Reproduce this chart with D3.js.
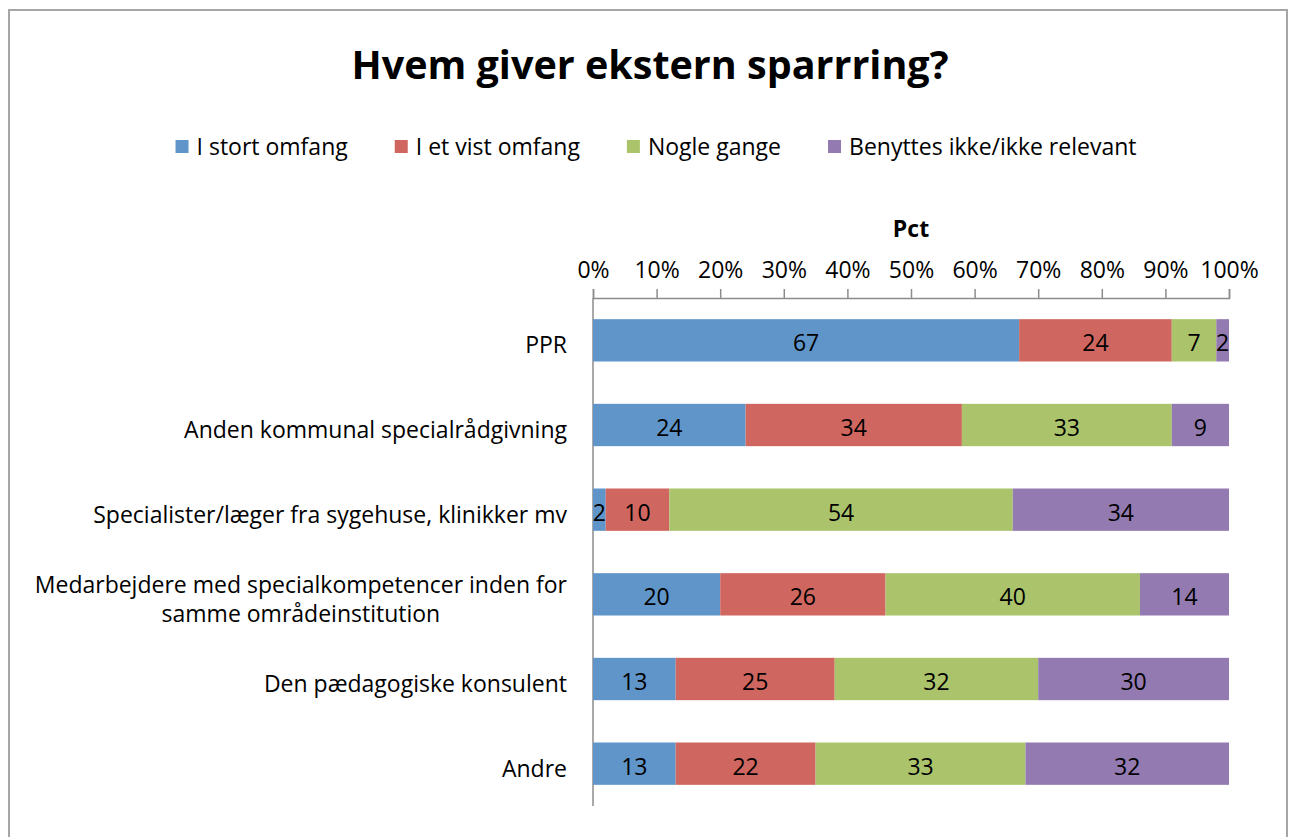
<!DOCTYPE html>
<html>
<head>
<meta charset="utf-8">
<script src="https://cdn.jsdelivr.net/npm/d3@7"></script>
<style>
  html, body { margin: 0; padding: 0; background: #fff; }
  svg text { font-family: "Open Sans", Lato, sans-serif; fill: #000; }
</style>
</head>
<body>
<svg id="chart" width="1296" height="837"></svg>
<script>
// Survey answers, percent of respondents per source of external sparring
const categories = [
  ["PPR"],
  ["Anden kommunal specialrådgivning"],
  ["Specialister/læger fra sygehuse, klinikker mv"],
  ["Medarbejdere med specialkompetencer inden for", "samme områdeinstitution"],
  ["Den pædagogiske konsulent"],
  ["Andre"]
];
const seriesNames = ["I stort omfang", "I et vist omfang", "Nogle gange", "Benyttes ikke/ikke relevant"];
const iStortOmfang   = [67, 24, 2, 20, 13, 13];
const iEtVistOmfang  = [24, 34, 10, 26, 25, 22];
const nogleGange     = [7, 33, 54, 40, 32, 33];
const benyttesIkke   = [2, 9, 34, 14, 30, 32];
const tickValues = [0, 10, 20, 30, 40, 50, 60, 70, 80, 90, 100];
const colors = ["#6095c9", "#cf665f", "#abc46c", "#937bb1"];

const FS = "23px";
const svg = d3.select("#chart");

// outer frame
svg.append("rect")
  .attr("x", 9).attr("y", 10).attr("width", 1278).attr("height", 840)
  .attr("fill", "none").attr("stroke", "#a6a6a6").attr("stroke-width", 2);

// title
svg.append("text")
  .attr("x", 650).attr("y", 79)
  .attr("text-anchor", "middle")
  .style("font-size", "39.5px").style("font-weight", "bold")
  .text("Hvem giver ekstern sparrring?");

// legend
const legend = svg.append("g");
let lx = 0;
const itemGap = 47;
seriesNames.forEach((name, i) => {
  const g = legend.append("g").attr("transform", `translate(${lx},0)`);
  g.append("rect").attr("x", 0).attr("y", -7).attr("width", 13).attr("height", 13).attr("fill", colors[i]);
  const t = g.append("text").attr("x", 21).attr("y", 8).style("font-size", FS).text(name);
  lx += 21 + t.node().getComputedTextLength() + itemGap;
});
const legendWidth = lx - itemGap;
legend.attr("transform", `translate(${656 - legendWidth / 2},147)`);

// scales
const x = d3.scaleLinear().domain([0, 100]).range([593, 1229]);
const y = d3.scaleBand().domain(d3.range(categories.length)).range([298, 806])
  .paddingInner(0.5).paddingOuter(0.25);

// stacked data
const rows = categories.map((c, i) => ({
  i,
  values: [iStortOmfang[i], iEtVistOmfang[i], nogleGange[i], benyttesIkke[i]]
}));
const stacked = d3.stack().keys([0, 1, 2, 3]).value((d, k) => d.values[k])(rows);

// axis on top
const axis = d3.axisTop(x).tickValues(tickValues).tickFormat(d => d + "%").tickSize(9).tickPadding(11);
const ax = svg.append("g").attr("transform", "translate(0,298)").call(axis);
ax.select(".domain").attr("stroke", "#8c8c8c").attr("stroke-width", 1.5);
ax.selectAll(".tick line").attr("stroke", "#8c8c8c").attr("stroke-width", 1.5);
ax.selectAll(".tick text").style("font-size", FS).style("font-family", "'Open Sans', sans-serif").attr("fill", "#000");

// vertical category axis line
svg.append("line")
  .attr("x1", x(0)).attr("x2", x(0)).attr("y1", 298).attr("y2", 806)
  .attr("stroke", "#8c8c8c").attr("stroke-width", 1.5);

// axis title
svg.append("text")
  .attr("x", x(50)).attr("y", 237)
  .attr("text-anchor", "middle")
  .style("font-size", FS).style("font-weight", "bold")
  .text("Pct");

// bars
stacked.forEach((layer, k) => {
  const g = svg.append("g");
  g.selectAll("rect").data(layer).join("rect")
    .attr("x", d => x(d[0]))
    .attr("y", (d, i) => y(i))
    .attr("width", d => x(d[1]) - x(d[0]))
    .attr("height", y.bandwidth())
    .attr("fill", colors[k]);
  g.selectAll("text").data(layer).join("text")
    .attr("x", d => (x(d[0]) + x(d[1])) / 2)
    .attr("y", (d, i) => y(i) + y.bandwidth() / 2 + 11)
    .attr("text-anchor", "middle")
    .style("font-size", FS)
    .text(d => d[1] - d[0]);
});

// category labels (multi-line labels centered on each other, block right-aligned)
categories.forEach((lines, i) => {
  const cy = y(i) + y.bandwidth() / 2;
  const lh = 29;
  const g = svg.append("g");
  const texts = lines.map((ln, j) =>
    g.append("text")
      .attr("y", cy + 13 + (j - (lines.length - 1) / 2) * lh)
      .style("font-size", FS)
      .text(ln));
  const widths = texts.map(t => t.node().getComputedTextLength());
  const maxW = Math.max(...widths);
  const right = 567;
  texts.forEach(t => {
    t.attr("x", right - maxW / 2).attr("text-anchor", "middle");
  });
});
</script>
</body>
</html>
